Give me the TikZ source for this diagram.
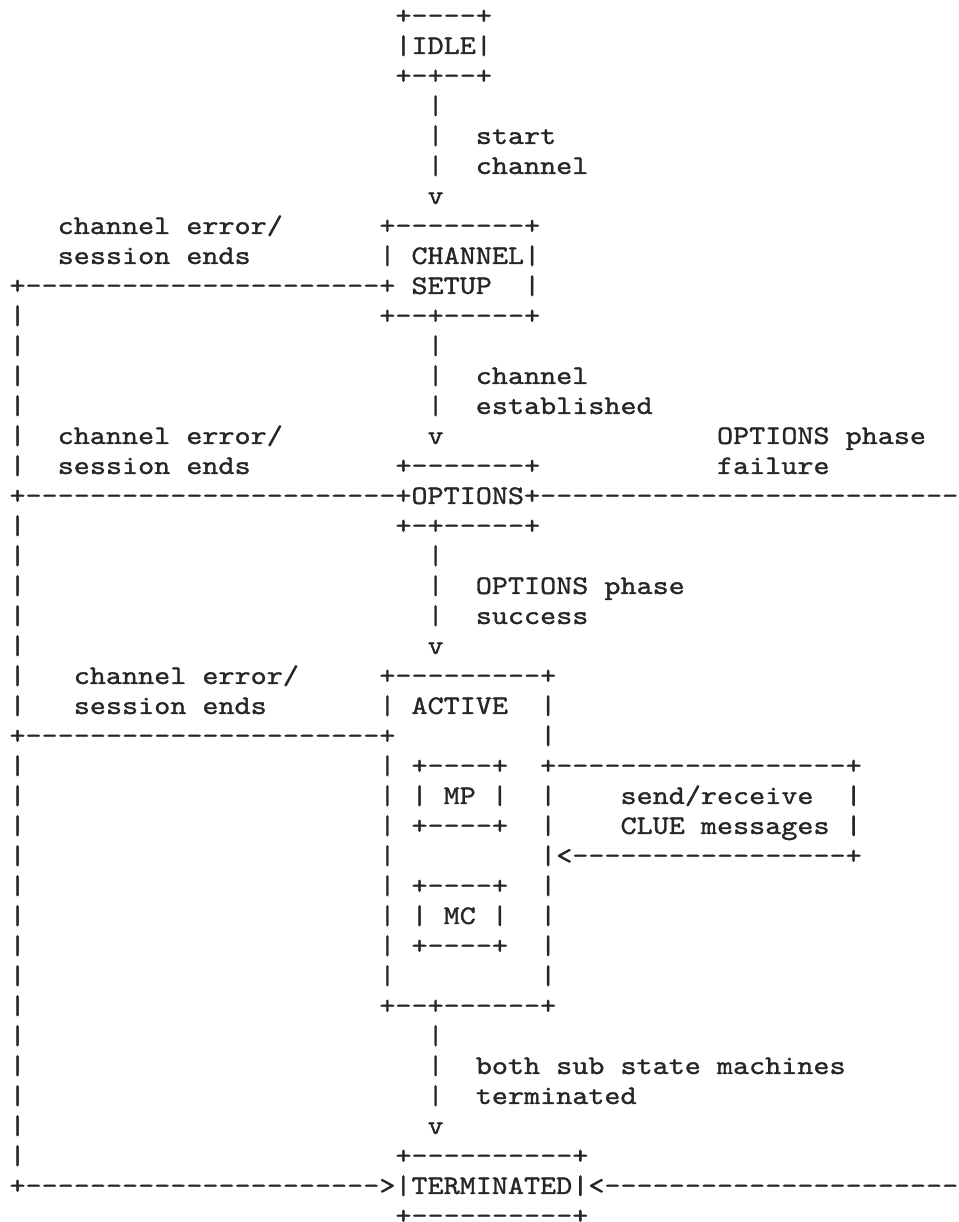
\documentclass[tikz,border=0pt]{standalone}
\usepackage{fontspec}
\setmonofont[FakeStretch=1.1428, FakeBold=1.2]{lmmono10-regular.otf}
\tikzset{
  txt/.style={anchor=base west, inner sep=0pt, outer sep=0pt,
    font=\ttfamily\fontsize{26.8pt}{30pt}\selectfont, text=black!85}
}
% \A{name}{column}{row}{text}
\newcommand\A[4]{\node[txt] (#1) at ({(9.5+16.08*(#2))*1pt},{(1198-30*(#3))*1pt}) {#4};}
\begin{document}
\begin{tikzpicture}
\useasboundingbox (0,0) rectangle (958pt,1222pt);
\clip (0,0) rectangle (958pt,1222pt);
% IDLE
\A{r0}{24}{0}{+----+}
\A{idle}{24}{1}{|IDLE|}
\A{r2}{24}{2}{+-+--+}
\A{r3}{26}{3}{|}
\A{r4a}{26}{4}{|}
\A{r4b}{29}{4}{start}
\A{r5a}{26}{5}{|}
\A{r5b}{29}{5}{channel}
\A{r6}{26}{6}{v}
% CHANNEL SETUP
\A{r7a}{3}{7}{channel error/}
\A{r7b}{23}{7}{+--------+}
\A{r8a}{3}{8}{session ends}
\A{r8b}{23}{8}{|}
\A{chan}{25}{8}{CHANNEL|}
\A{r9a}{0}{9}{+----------------------+}
\A{setup}{25}{9}{SETUP}
\A{r9c}{32}{9}{|}
\A{r10a}{0}{10}{|}
\A{r10b}{23}{10}{+--+-----+}
\A{r11a}{0}{11}{|}
\A{r11b}{26}{11}{|}
\A{r12a}{0}{12}{|}
\A{r12b}{26}{12}{|}
\A{r12c}{29}{12}{channel}
\A{r13a}{0}{13}{|}
\A{r13b}{26}{13}{|}
\A{r13c}{29}{13}{established}
% OPTIONS
\A{r14a}{0}{14}{|}
\A{r14b}{3}{14}{channel error/}
\A{r14c}{26}{14}{v}
\A{r14d}{44}{14}{OPTIONS phase}
\A{r15a}{0}{15}{|}
\A{r15b}{3}{15}{session ends}
\A{r15c}{24}{15}{+-------+}
\A{r15d}{44}{15}{failure}
\A{opt}{0}{16}{+-----------------------+OPTIONS+----------------------------}
\A{r17a}{0}{17}{|}
\A{r17b}{24}{17}{+-+-----+}
\A{r18a}{0}{18}{|}
\A{r18b}{26}{18}{|}
\A{r19a}{0}{19}{|}
\A{r19b}{26}{19}{|}
\A{r19c}{29}{19}{OPTIONS phase}
\A{r20a}{0}{20}{|}
\A{r20b}{26}{20}{|}
\A{r20c}{29}{20}{success}
\A{r21a}{0}{21}{|}
\A{r21b}{26}{21}{v}
% ACTIVE
\A{r22a}{0}{22}{|}
\A{r22b}{4}{22}{channel error/}
\A{r22c}{23}{22}{+---------+}
\A{r23a}{0}{23}{|}
\A{r23b}{4}{23}{session ends}
\A{r23c}{23}{23}{|}
\A{active}{25}{23}{ACTIVE}
\A{r23e}{33}{23}{|}
\A{r24a}{0}{24}{+----------------------+}
\A{r24b}{33}{24}{|}
\A{r25a}{0}{25}{|}
\A{r25b}{23}{25}{|}
\A{r25c}{25}{25}{+----+}
\A{r25d}{33}{25}{+------------------+}
\A{r26a}{0}{26}{|}
\A{r26b}{23}{26}{|}
\A{r26c}{25}{26}{|}
\A{mp}{27}{26}{MP}
\A{r26e}{30}{26}{|}
\A{r26f}{33}{26}{|}
\A{r26g}{38}{26}{send/receive}
\A{r26h}{52}{26}{|}
\A{r27a}{0}{27}{|}
\A{r27b}{23}{27}{|}
\A{r27c}{25}{27}{+----+}
\A{r27d}{33}{27}{|}
\A{r27e}{38}{27}{CLUE messages}
\A{r27f}{52}{27}{|}
\A{r28a}{0}{28}{|}
\A{r28b}{23}{28}{|}
\A{r28c}{33}{28}{|<-----------------+}
\A{r29a}{0}{29}{|}
\A{r29b}{23}{29}{|}
\A{r29c}{25}{29}{+----+}
\A{r29d}{33}{29}{|}
\A{r30a}{0}{30}{|}
\A{r30b}{23}{30}{|}
\A{r30c}{25}{30}{|}
\A{mc}{27}{30}{MC}
\A{r30e}{30}{30}{|}
\A{r30f}{33}{30}{|}
\A{r31a}{0}{31}{|}
\A{r31b}{23}{31}{|}
\A{r31c}{25}{31}{+----+}
\A{r31d}{33}{31}{|}
\A{r32a}{0}{32}{|}
\A{r32b}{23}{32}{|}
\A{r32c}{33}{32}{|}
\A{r33a}{0}{33}{|}
\A{r33b}{23}{33}{+--+------+}
\A{r34a}{0}{34}{|}
\A{r34b}{26}{34}{|}
\A{r35a}{0}{35}{|}
\A{r35b}{26}{35}{|}
\A{r35c}{29}{35}{both sub state machines}
\A{r36a}{0}{36}{|}
\A{r36b}{26}{36}{|}
\A{r36c}{29}{36}{terminated}
\A{r37a}{0}{37}{|}
\A{r37b}{26}{37}{v}
% TERMINATED
\A{r38a}{0}{38}{|}
\A{r38b}{24}{38}{+----------+}
\A{term}{0}{39}{+---------------------->|TERMINATED|<------------------------}
\A{r40}{24}{40}{+----------+}
\end{tikzpicture}
\end{document}
